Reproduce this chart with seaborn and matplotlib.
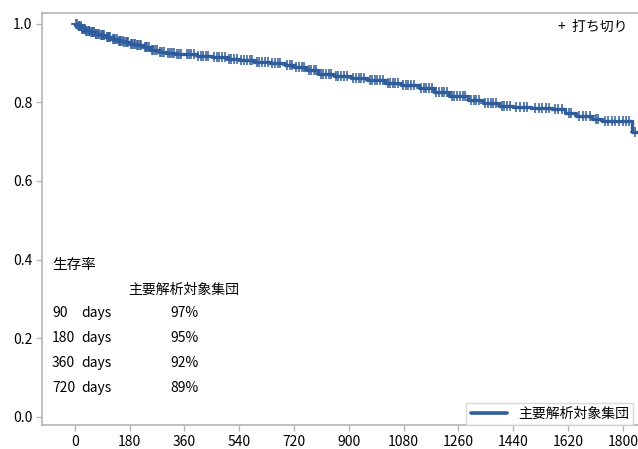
import numpy as np
import pandas as pd
import matplotlib
matplotlib.use("Agg")
import matplotlib.pyplot as plt
import seaborn as sns
from matplotlib.lines import Line2D

# ---- data ----
event_times = [0, 10, 20, 35, 50, 65, 82, 100, 120, 140, 160, 181, 200, 225, 247, 275, 300,
               330, 360, 400, 450, 500, 540, 590, 640, 690, 720, 760, 800, 850, 908, 960,
               1020, 1070, 1129, 1180, 1230, 1293, 1340, 1392, 1440, 1500, 1566, 1610, 1645,
               1700, 1731, 1830]
survival = [1.0, 0.993, 0.987, 0.982, 0.978, 0.974, 0.970, 0.965, 0.960, 0.956, 0.952, 0.949,
            0.945, 0.940, 0.933, 0.929, 0.926, 0.924, 0.922, 0.918, 0.915, 0.911, 0.907, 0.903,
            0.900, 0.896, 0.890, 0.882, 0.872, 0.867, 0.861, 0.856, 0.849, 0.843, 0.836, 0.826,
            0.817, 0.806, 0.797, 0.790, 0.787, 0.785, 0.783, 0.772, 0.764, 0.757, 0.752, 0.724]
end_time = 1846
censor_times = [3, 8, 12, 15, 19, 23, 27, 30, 33, 38, 41, 45, 48, 52, 56, 60, 63, 68, 71, 75, 79,
                85, 88, 93, 97, 104, 108, 112, 117, 124, 129, 133, 137, 144, 148, 152, 157, 163,
                168, 172, 176, 185, 189, 193, 197, 204, 208, 213, 218, 229, 233, 238, 243, 252,
                258, 264, 270, 280, 287, 293, 306, 312, 318, 325, 336, 343, 350, 368, 375, 383,
                392, 405, 413, 421, 430, 438, 457, 466, 474, 483, 492, 506, 514, 523, 531, 547,
                556, 565, 574, 582, 597, 606, 615, 624, 633, 648, 657, 666, 675, 698, 706, 713,
                728, 737, 745, 752, 768, 776, 784, 792, 808, 816, 826, 834, 842, 858, 866, 875,
                884, 893, 915, 923, 932, 941, 950, 968, 976, 985, 994, 1003, 1011, 1028, 1036,
                1045, 1053, 1062, 1078, 1087, 1095, 1104, 1113, 1137, 1146, 1155, 1163, 1172,
                1188, 1197, 1206, 1214, 1222, 1238, 1247, 1256, 1265, 1274, 1283, 1301, 1310,
                1318, 1327, 1348, 1357, 1366, 1375, 1384, 1402, 1411, 1420, 1430, 1450, 1462,
                1474, 1486, 1512, 1524, 1536, 1548, 1557, 1576, 1588, 1600, 1622, 1630, 1655,
                1668, 1680, 1692, 1712, 1720, 1740, 1752, 1764, 1776, 1788, 1800, 1812, 1822, 1840]
x_ticks = [0, 180, 360, 540, 720, 900, 1080, 1260, 1440, 1620, 1800]
y_ticks = [0.0, 0.2, 0.4, 0.6, 0.8, 1.0]
table_title = "生存率"
table_header = "主要解析対象集団"
table_days = ["90", "180", "360", "720"]
table_values = ["97%", "95%", "92%", "89%"]
group_label = "主要解析対象集団"
censor_label = "打ち切り"

# ---- setup ----
sns.set_theme(style="white")
plt.rcParams["font.family"] = ["Noto Sans CJK JP", "DejaVu Sans"]
plt.rcParams["text.color"] = "black"
plt.rcParams["xtick.color"] = "black"
plt.rcParams["ytick.color"] = "black"

color = "#2f5d9c"
gray = "#b4b4b4"

fig = plt.figure(figsize=(6.38, 4.49), dpi=100)
ax = fig.add_axes([42 / 638, 24 / 449, 1 - 42 / 638, (425 - 13) / 449])

step_df = pd.DataFrame({
    "time": event_times + [end_time],
    "surv": survival + [survival[-1]],
})
sns.lineplot(data=step_df, x="time", y="surv", ax=ax, color=color, linewidth=2.4,
             drawstyle="steps-post", estimator=None, sort=False, legend=False)

idx = np.searchsorted(np.array(event_times), np.array(censor_times), side="right") - 1
cens_df = pd.DataFrame({"time": censor_times, "surv": np.array(survival)[idx]})
sns.scatterplot(data=cens_df, x="time", y="surv", ax=ax, marker="+", color=color,
                s=60, linewidth=1.1, legend=False)

ax.set_xlim(-108, 1850)
ax.set_ylim(-0.0205, 1.027)
ax.set_xticks(x_ticks)
ax.set_yticks(y_ticks)
ax.set_xticklabels([str(t) for t in x_ticks], fontsize=10)
ax.set_yticklabels([f"{t:.1f}" for t in y_ticks], fontsize=10)
ax.set_xlabel("")
ax.set_ylabel("")
ax.tick_params(axis="both", which="both", direction="out", length=4, width=1,
               color=gray, labelcolor="black", bottom=True, left=True, pad=3)

for side in ["left", "top", "bottom"]:
    ax.spines[side].set_color(gray)
    ax.spines[side].set_linewidth(1.2)
ax.spines["right"].set_visible(False)

# inset table
def px(x, y):
    return (x / 638, 1 - y / 449)

fs = 10
fig.text(*px(52, 265), table_title, fontsize=10.5, va="center", ha="left", color="black")
fig.text(*px(128, 290), table_header, fontsize=fs, va="center", ha="left", color="black")
rows_y = [313, 338, 363, 388]
for d, v, yy in zip(table_days, table_values, rows_y):
    fig.text(*px(52, yy), d, fontsize=fs, va="center", ha="left", color="black")
    fig.text(*px(81, yy), "days", fontsize=fs, va="center", ha="left", color="black")
    fig.text(*px(170, yy), v, fontsize=fs, va="center", ha="left", color="black")

# censor legend (top right)
fig.text(*px(558, 27), "+  " + censor_label, fontsize=10, va="center", ha="left", color="black")

# group legend (bottom right)
handle = Line2D([], [], color=color, linewidth=2.6)
leg = ax.legend([handle], [group_label], loc="lower right", frameon=True, fancybox=False,
                fontsize=10, handlelength=2.6, borderpad=0.3, handletextpad=0.8,
                borderaxespad=0.0)
leg.set_bbox_to_anchor((633 / 638, 24 / 449), transform=fig.transFigure)
leg.get_frame().set_edgecolor("#d0d0d0")
leg.get_frame().set_linewidth(1.0)
for t in leg.get_texts():
    t.set_color("black")

fig.savefig("out.png", dpi=100)
